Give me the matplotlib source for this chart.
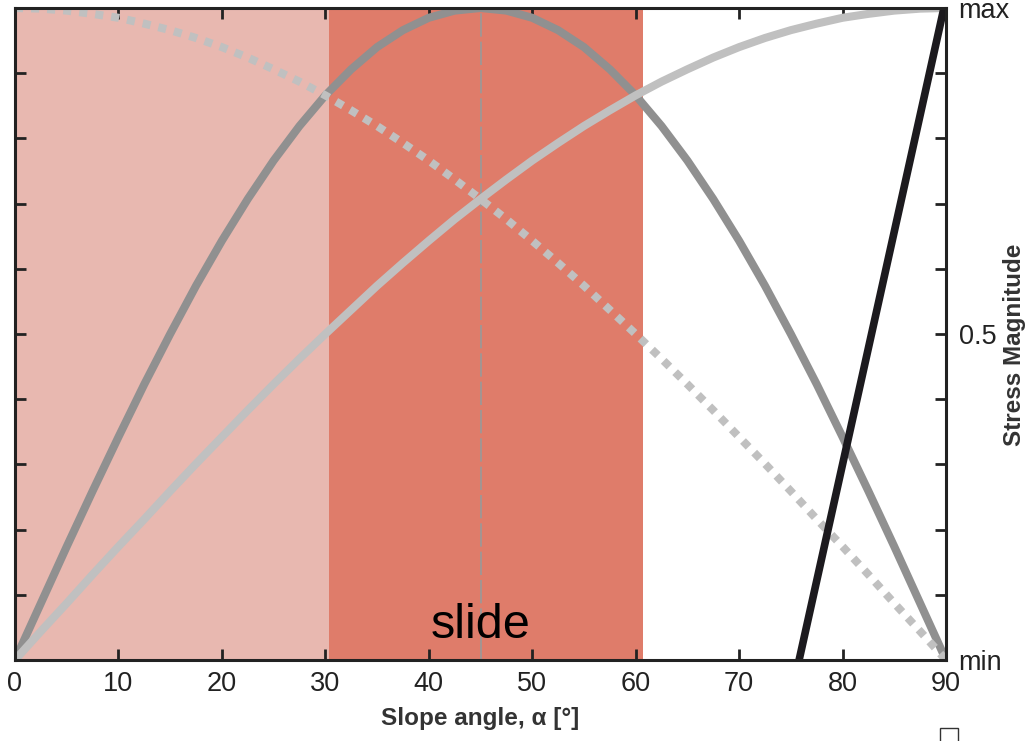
import numpy as np
import matplotlib.pyplot as plt
import matplotlib.patches as mpatches

# slope angle samples (degrees), 2.5 deg apart
angle = [0, 2.5, 5, 7.5, 10, 12.5, 15, 17.5, 20, 22.5, 25, 27.5, 30, 32.5, 35, 37.5,
         40, 42.5, 45, 47.5, 50, 52.5, 55, 57.5, 60, 62.5, 65, 67.5, 70, 72.5, 75,
         77.5, 80, 82.5, 85, 87.5, 90]

# shear stress (dark grey, peaks at 45 deg)
shear = [0, .087, .174, .259, .342, .423, .5, .574, .643, .707, .766, .819, .866, .906,
         .940, .966, .985, .996, 1, .996, .985, .966, .940, .906, .866, .819, .766,
         .707, .643, .574, .5, .423, .342, .259, .174, .087, 0]

# downslope component (light grey, solid)
down = [0, .044, .087, .131, .174, .216, .259, .301, .342, .383, .423, .462, .5, .537,
        .574, .609, .643, .676, .707, .737, .766, .793, .819, .843, .866, .887, .906,
        .924, .940, .954, .966, .976, .985, .991, .996, .999, 1]

# normal component (light grey, dotted)
normal = [1, .999, .996, .991, .985, .976, .966, .954, .940, .924, .906, .887, .866,
          .843, .819, .793, .766, .737, .707, .676, .643, .609, .574, .537, .5, .462,
          .423, .383, .342, .301, .259, .216, .174, .131, .087, .044, 0]

# steep black line
steep_x = [75.8, 89.8]
steep_y = [0, 1]

zones = [(0, 30.4, '#e8b8b0'), (30.4, 60.7, '#df7c6a')]
xticks = [0, 10, 20, 30, 40, 50, 60, 70, 80, 90]
yticks = [0, .1, .2, .3, .4, .5, .6, .7, .8, .9, 1]
ylabels = ['min', '', '', '', '', '0.5', '', '', '', '', 'max']

plt.rcParams['font.family'] = ['Liberation Sans', 'DejaVu Sans']

fig = plt.figure(figsize=(10.3, 7.41), dpi=100)
ax = fig.add_axes([15/1030, 1-660/741, (946-15)/1030, (660-8)/741])

for x0, x1, col in zones:
    ax.axvspan(x0, x1, color=col, lw=0, zorder=0)

ax.axvline(45, color='#999999', lw=1.2, ls=(0, (14, 3)), zorder=1)

ax.plot(angle, shear, color='#909090', lw=5.8, solid_capstyle='butt', zorder=2)
ax.plot(angle, down, color='#c0c0c0', lw=5.8, solid_capstyle='butt', zorder=3)
ax.plot(angle, normal, color='#c0c0c0', lw=5.8, ls=(0, (1, 1)),
        dash_capstyle='butt', zorder=4)
ax.plot(steep_x, steep_y, color='#1c1a1e', lw=5.5, solid_capstyle='butt', zorder=5)

ax.text(45, 0.033, 'slide', fontsize=35, ha='center', va='baseline', color='black')

ax.set_xlim(0, 90)
ax.set_ylim(0, 1)
ax.set_xticks(xticks)
ax.set_yticks(yticks)
ax.set_yticklabels(ylabels)
ax.tick_params(direction='in', length=8, width=2, color='#222222',
               labelsize=19.5, labelcolor='#222222',
               top=True, bottom=True, left=True, right=True,
               labelleft=False, labelright=True)
ax.tick_params(axis='x', pad=8)
ax.tick_params(axis='y', pad=9)
for s in ax.spines.values():
    s.set_linewidth(2.2)
    s.set_color('#222222')
    s.set_zorder(6)

ax.set_xlabel('Slope angle, α [°]', fontsize=17.5, fontweight='bold',
              color='#333333', labelpad=7)
fig.text(1015/1030, 1-345/741, 'Stress Magnitude', rotation=90, fontsize=17.5,
         fontweight='bold', color='#333333', ha='center', va='center')

fig.patches.append(mpatches.Rectangle((940/1030, -0.01), 18/1030, 0.028,
                                      transform=fig.transFigure, fill=False,
                                      ec='#333333', lw=1))

plt.savefig('out.png', dpi=100)
